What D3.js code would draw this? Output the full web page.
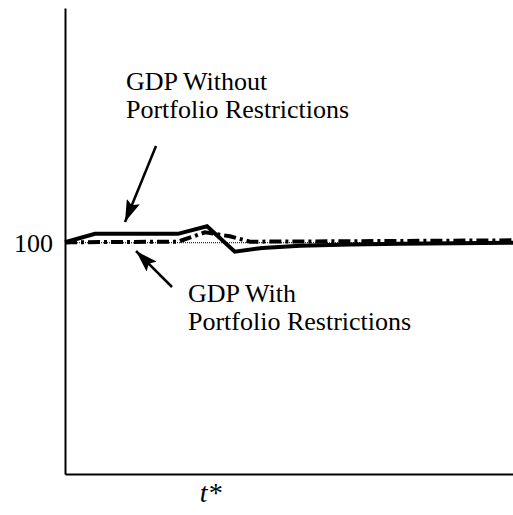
<!DOCTYPE html>
<html>
<head>
<meta charset="utf-8">
<script src="https://cdn.jsdelivr.net/npm/d3@7"></script>
<style>
  body { margin: 0; background: #fff; }
</style>
</head>
<body>
<div id="chart"></div>
<script>
// data (time index 0..100, gdp index with 100 = steady state)
var solidT = [0, 6.7, 25.2, 31.7, 37.9, 44, 52.5, 63.6, 74.8, 100];
var solidGdp = [100.04, 100.77, 100.77, 101.42, 99.23, 99.55, 99.74, 99.84, 99.91, 100.0];

var restrT = [0, 25.2, 31.25, 36.8, 41.3, 63.6, 100];
var restrGdp = [100.04, 100.09, 100.9, 100.56, 100.09, 100.13, 100.21];

var baseT = [0, 100];
var baseGdp = [100, 100];

var yTicks = [100];
var tStar = 32.4;

var labelTop = ["GDP Without", "Portfolio Restrictions"];
var labelBottom = ["GDP With", "Portfolio Restrictions"];

var serif = "'Liberation Serif', 'Times New Roman', Times, serif";

//set up the svg
var svgWidth = 513;
var svgHeight = 515;

var svg = d3.select("#chart")
  .append("svg")
  .attr("width", svgWidth)
  .attr("height", svgHeight);

// scales
var x = d3.scaleLinear().domain([0, 100]).range([65, 513]);
var y = d3.scaleLinear().domain([80, 120.3]).range([474, 8]);

function toPoints(ts, vs) {
  return ts.map(function(t, i) { return [t, vs[i]]; });
}

var line = d3.line()
  .x(function(d) { return x(d[0]); })
  .y(function(d) { return y(d[1]); });

// dotted steady state line
svg.append("path")
  .datum(toPoints(baseT, baseGdp))
  .attr("d", line)
  .attr("fill", "none")
  .attr("stroke", "#000")
  .attr("stroke-width", 1)
  .attr("stroke-dasharray", "1,1");

// with restrictions (dash dot)
svg.append("path")
  .datum(toPoints(restrT, restrGdp))
  .attr("d", line)
  .attr("fill", "none")
  .attr("stroke", "#000")
  .attr("stroke-width", 4)
  .attr("stroke-dasharray", "12,4,3,4");

// without restrictions (solid)
svg.append("path")
  .datum(toPoints(solidT, solidGdp))
  .attr("d", line)
  .attr("fill", "none")
  .attr("stroke", "#000")
  .attr("stroke-width", 4)
  .attr("stroke-linejoin", "miter");

// axes
var leftAxis = d3.axisLeft(y)
  .tickValues(yTicks)
  .tickSizeInner(-5)
  .tickSizeOuter(0)
  .tickPadding(12)
  .tickFormat(d3.format("d"));

var bottomAxis = d3.axisBottom(x)
  .tickValues([tStar])
  .tickSizeInner(0)
  .tickSizeOuter(0)
  .tickPadding(8)
  .tickFormat(function() { return "t*"; });

var gy = svg.append("g")
  .attr("transform", "translate(" + x(0) + ",0)")
  .call(leftAxis);
gy.select(".domain").attr("stroke-width", 2);
gy.selectAll(".tick line").attr("stroke-width", 2);
gy.selectAll("text")
  .attr("fill", "#000")
  .attr("font-size", 26)
  .attr("font-family", serif);

var gx = svg.append("g")
  .attr("transform", "translate(0," + y(80) + ")")
  .call(bottomAxis);
gx.select(".domain").attr("stroke-width", 2);
gx.selectAll("text")
  .attr("fill", "#000")
  .attr("font-size", 28)
  .attr("font-style", "italic")
  .attr("font-family", serif);

// arrow head marker
svg.append("defs")
  .append("marker")
  .attr("id", "head")
  .attr("markerUnits", "userSpaceOnUse")
  .attr("viewBox", "0 0 22 14")
  .attr("refX", 22)
  .attr("refY", 7)
  .attr("markerWidth", 22)
  .attr("markerHeight", 14)
  .attr("orient", "auto")
  .append("path")
  .attr("d", "M0,0L22,7L0,14L4,7Z")
  .attr("fill", "#000");

// annotations
function addLabel(lines, lx, ly) {
  svg.append("g")
    .selectAll("text")
    .data(lines)
    .enter()
    .append("text")
    .attr("x", lx)
    .attr("y", function(d, i) { return ly + i * 28; })
    .attr("font-size", 26)
    .attr("font-family", serif)
    .attr("fill", "#000")
    .text(function(d) { return d; });
}

addLabel(labelTop, 126, 90);
addLabel(labelBottom, 188, 302);

svg.append("line")
  .attr("x1", 156).attr("y1", 146)
  .attr("x2", 125).attr("y2", 222)
  .attr("stroke", "#000")
  .attr("stroke-width", 2.5)
  .attr("marker-end", "url(#head)");

svg.append("line")
  .attr("x1", 172).attr("y1", 287)
  .attr("x2", 136).attr("y2", 251)
  .attr("stroke", "#000")
  .attr("stroke-width", 2.5)
  .attr("marker-end", "url(#head)");
</script>
</body>
</html>
